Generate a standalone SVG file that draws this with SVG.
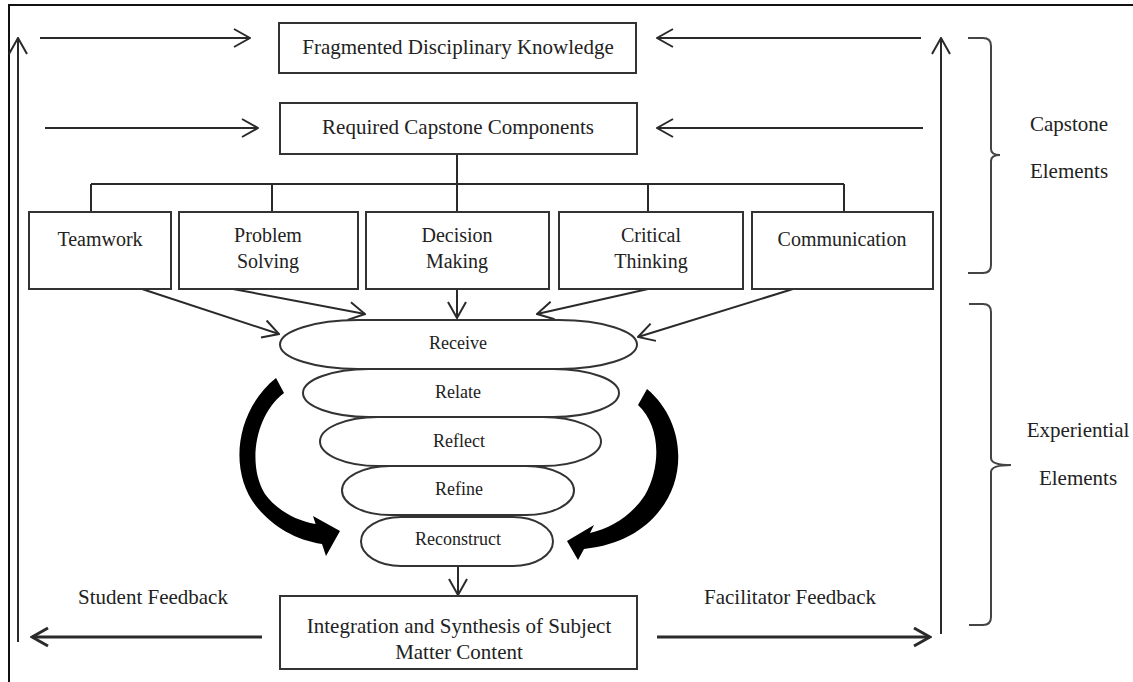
<svg xmlns="http://www.w3.org/2000/svg" width="1133" height="682" viewBox="0 0 1133 682">
<style>
.bx{fill:#fff;stroke:#333;stroke-width:2}
.ln{fill:none;stroke:#2a2a2a;stroke-width:2}
.lnb{fill:none;stroke:#2a2a2a;stroke-width:3}
.t{font-family:"Liberation Serif","Times New Roman",serif;font-size:21px;fill:#222;text-anchor:middle}
.tb{font-family:"Liberation Serif","Times New Roman",serif;font-size:20px;fill:#222;text-anchor:middle}
.te{font-family:"Liberation Serif","Times New Roman",serif;font-size:18px;fill:#222;text-anchor:middle}
.br{fill:none;stroke:#444;stroke-width:2}
.blk{fill:#000;stroke:none}
</style>
<defs>
<marker id="ah" viewBox="0 0 18 20" refX="17" refY="10" markerWidth="18" markerHeight="20" markerUnits="userSpaceOnUse" orient="auto">
<path d="M1,1 L17,10 L1,19" fill="none" stroke="#2a2a2a" stroke-width="2"/>
</marker>
<marker id="ahb" viewBox="0 0 20 22" refX="18" refY="11" markerWidth="20" markerHeight="22" markerUnits="userSpaceOnUse" orient="auto">
<path d="M2,2 L18,11 L2,20" fill="none" stroke="#2a2a2a" stroke-width="3"/>
</marker>
</defs>
<rect width="1133" height="682" fill="#fff"/>
<path d="M9,690 L9,5 L1140,5" fill="none" stroke="#111" stroke-width="2"/>

<g id="connectors">
<line class="ln" x1="40" y1="38" x2="250" y2="38" marker-end="url(#ah)"/>
<line class="ln" x1="921" y1="38" x2="657" y2="38" marker-end="url(#ah)"/>
<line class="ln" x1="45" y1="128" x2="258" y2="128" marker-end="url(#ah)"/>
<line class="ln" x1="923" y1="128" x2="657" y2="128" marker-end="url(#ah)"/>
<path class="ln" d="M457,154 L457,184 M91,184 L844,184 M91,184 L91,212 M272,184 L272,212 M457,184 L457,212 M648,184 L648,212 M844,184 L844,212"/>
<line class="ln" x1="142" y1="289" x2="279" y2="334" marker-end="url(#ah)"/>
<line class="ln" x1="233" y1="289" x2="365" y2="314" marker-end="url(#ah)"/>
<line class="ln" x1="457" y1="289" x2="457" y2="318" marker-end="url(#ah)"/>
<line class="ln" x1="648" y1="289" x2="537" y2="314" marker-end="url(#ah)"/>
<line class="ln" x1="793" y1="289" x2="638" y2="337" marker-end="url(#ah)"/>
<line class="ln" x1="458" y1="566" x2="458" y2="595" marker-end="url(#ah)"/>
<line class="ln" x1="18" y1="642" x2="18" y2="38" marker-end="url(#ah)"/>
<line class="ln" x1="941" y1="634" x2="941" y2="38" marker-end="url(#ah)"/>
<line class="lnb" x1="262" y1="637" x2="32" y2="637" marker-end="url(#ahb)"/>
<line class="lnb" x1="657" y1="637" x2="930" y2="637" marker-end="url(#ahb)"/>
<path class="blk" d="M276,378 C236,410 228,470 256,506 C272,526 295,540 322,544 L326,556 L340,531 L313,516 L315.6,524 C293,520 275,508 265,494 C247,465 255,415 284,393 Z"/>
<path class="blk" d="M647,389 C684,420 688,475 660,510 C645,530 620,545 584,549 L578,560 L567,541 L594,525 L590,533 C612,528 632,515 645,495 C662,465 660,425 638,405 Z"/>
</g>

<g id="n-fragmented">
<rect class="bx" x="279" y="23" width="357" height="50"/>
<text class="t" x="458" y="54">Fragmented Disciplinary Knowledge</text>
</g>
<g id="n-required">
<rect class="bx" x="280" y="103" width="357" height="51"/>
<text class="t" x="458" y="134">Required Capstone Components</text>
</g>
<g id="n-teamwork">
<rect class="bx" x="29" y="212" width="142" height="77"/>
<text class="tb" x="100" y="246">Teamwork</text>
</g>
<g id="n-problem">
<rect class="bx" x="179" y="212" width="179" height="77"/>
<text class="tb" x="268" y="242">Problem</text>
<text class="tb" x="268" y="268">Solving</text>
</g>
<g id="n-decision">
<rect class="bx" x="366" y="212" width="183" height="77"/>
<text class="tb" x="457" y="242">Decision</text>
<text class="tb" x="457" y="268">Making</text>
</g>
<g id="n-critical">
<rect class="bx" x="559" y="212" width="184" height="77"/>
<text class="tb" x="651" y="242">Critical</text>
<text class="tb" x="651" y="268">Thinking</text>
</g>
<g id="n-communication">
<rect class="bx" x="752" y="212" width="181" height="77"/>
<text class="tb" x="842" y="246">Communication</text>
</g>

<g id="n-receive">
<rect class="bx" x="280" y="320" width="357" height="49" rx="78" ry="24.5"/>
<text class="te" x="458" y="349">Receive</text>
</g>
<g id="n-relate">
<rect class="bx" x="303" y="369" width="316" height="48" rx="66" ry="24"/>
<text class="te" x="458" y="398">Relate</text>
</g>
<g id="n-reflect">
<rect class="bx" x="320" y="417" width="281" height="49" rx="58" ry="24.5"/>
<text class="te" x="459" y="447">Reflect</text>
</g>
<g id="n-refine">
<rect class="bx" x="342" y="466" width="232" height="49" rx="48" ry="24.5"/>
<text class="te" x="459" y="495">Refine</text>
</g>
<g id="n-reconstruct">
<rect class="bx" x="361" y="517" width="192" height="49" rx="40" ry="24.5"/>
<text class="te" x="458" y="545">Reconstruct</text>
</g>

<g id="n-integration">
<rect class="bx" x="280" y="596" width="357" height="73"/>
<text class="t" x="459" y="633">Integration and Synthesis of Subject</text>
<text class="t" x="459" y="659">Matter Content</text>
</g>

<g id="labels">
<text class="t" x="153" y="604">Student Feedback</text>
<text class="t" x="790" y="604">Facilitator Feedback</text>
</g>

<g id="capstone-brace">
<path class="br" d="M968,38 L983,38 Q991,38 991,46 L991,149 Q991,155 1000,155 Q991,155 991,161 L991,265 Q991,273 983,273 L968,273"/>
<text class="t" x="1069" y="131">Capstone</text>
<text class="t" x="1069" y="178">Elements</text>
</g>
<g id="experiential-brace">
<path class="br" d="M969,304 L983,304 Q991,304 991,312 L991,458 Q991,465 1011,465 Q991,465 991,472 L991,617 Q991,625 983,625 L969,625"/>
<text class="t" x="1078" y="437">Experiential</text>
<text class="t" x="1078" y="485">Elements</text>
</g>
</svg>
